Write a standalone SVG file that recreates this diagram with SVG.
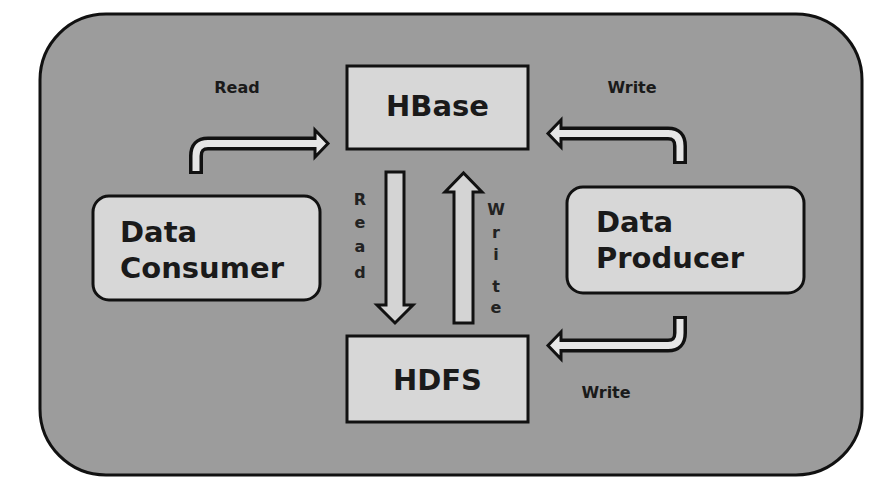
<svg xmlns="http://www.w3.org/2000/svg" width="887" height="495" viewBox="0 0 887 495">
<defs>
<style>
.box{fill:#d7d7d7;stroke:#111;stroke-width:3}
.big{font-family:"DejaVu Sans",sans-serif;font-weight:bold;font-size:29px;fill:#1a1a1a}
.lbl{font-family:"DejaVu Sans",sans-serif;font-weight:bold;font-size:16px;fill:#1a1a1a}
.vl{font-family:"DejaVu Sans",sans-serif;font-weight:bold;font-size:16px;fill:#222;text-anchor:middle}
.so{fill:none;stroke:#111;stroke-width:14}
.si{fill:none;stroke:#e6e6e6;stroke-width:7}
.hd{fill:#e6e6e6;stroke:#111;stroke-width:3;stroke-linejoin:miter}
.va{fill:#d4d4d4;stroke:#111;stroke-width:3}
</style>
</defs>
<rect width="887" height="495" fill="#ffffff"/>
<rect x="40" y="14" width="822" height="461" rx="66" ry="66" fill="#9c9c9c" stroke="#111" stroke-width="3"/>

<g id="hbase">
<rect class="box" x="347" y="66" width="181" height="83"/>
<text class="big" x="437.5" y="116" text-anchor="middle">HBase</text>
</g>
<g id="hdfs">
<rect class="box" x="347" y="336" width="181" height="86"/>
<text class="big" x="437.5" y="390" text-anchor="middle">HDFS</text>
</g>
<g id="consumer">
<rect class="box" x="93" y="196" width="227" height="104" rx="16"/>
<text class="big" x="120" y="242">Data</text>
<text class="big" x="120" y="278">Consumer</text>
</g>
<g id="producer">
<rect class="box" x="567" y="187" width="237" height="106" rx="16"/>
<text class="big" x="596" y="232">Data</text>
<text class="big" x="596" y="268">Producer</text>
</g>

<g id="connectors">
<path class="so" d="M196 174 V156 Q196 143.5 208 143.5 H317"/>
<polygon class="hd" points="315,130 328,143.5 315,157"/>
<path class="si" d="M196 171 V156 Q196 143.5 208 143.5 H318"/>
<path class="so" d="M680 164 V146 Q680 133.5 668 133.5 H558"/>
<polygon class="hd" points="561,120 548,133.5 561,147"/>
<path class="si" d="M680 161 V146 Q680 133.5 668 133.5 H557"/>
<path class="so" d="M680 316 V333 Q680 345.5 668 345.5 H558"/>
<polygon class="hd" points="561,332 548,345.5 561,359"/>
<path class="si" d="M680 319 V333 Q680 345.5 668 345.5 H557"/>
<polygon class="va" points="386,172 404,172 404,305 413,305 395,323 377,305 386,305"/>
<polygon class="va" points="454,323 473,323 473,192 482,192 463.5,173 445,192 454,192"/>
</g>

<g id="labels">
<text class="lbl" x="237" y="93" text-anchor="middle">Read</text>
<text class="lbl" x="632" y="93" text-anchor="middle">Write</text>
<text class="lbl" x="606" y="398" text-anchor="middle">Write</text>
<text class="vl" x="360" y="205">R</text>
<text class="vl" x="360" y="228">e</text>
<text class="vl" x="360" y="252">a</text>
<text class="vl" x="360" y="278">d</text>
<text class="vl" x="496" y="215">W</text>
<text class="vl" x="496" y="238">r</text>
<text class="vl" x="496" y="260">i</text>
<text class="vl" x="496" y="292">t</text>
<text class="vl" x="496" y="313">e</text>
</g>
</svg>
